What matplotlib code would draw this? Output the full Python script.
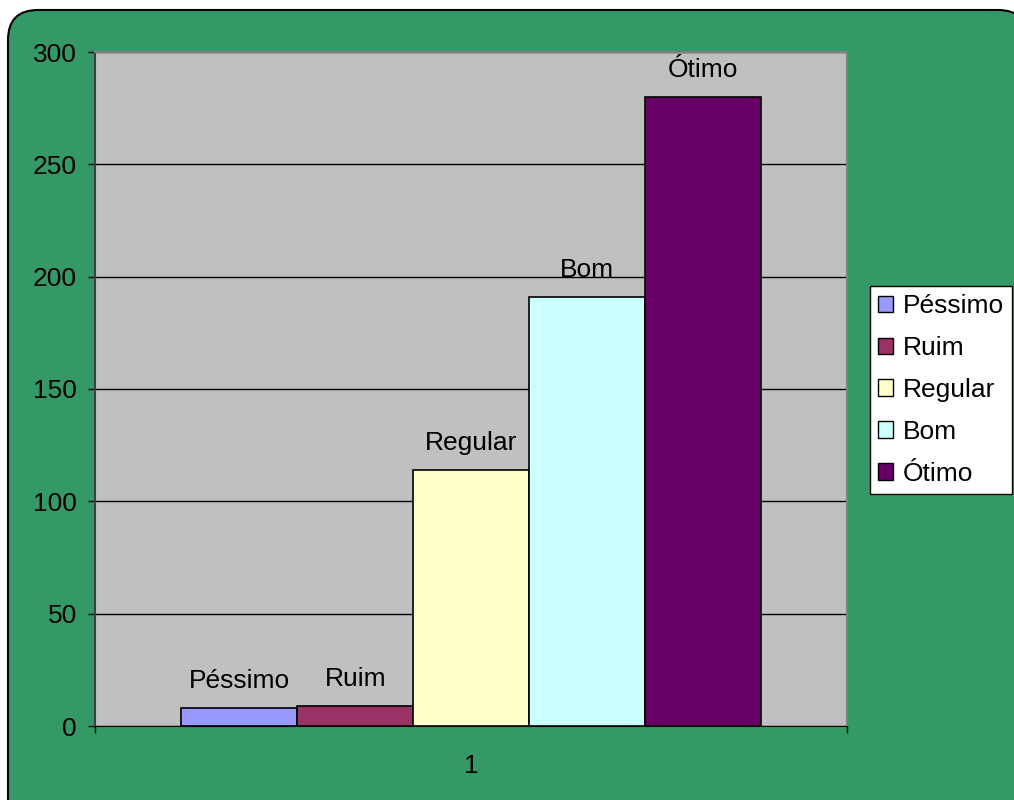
import matplotlib.pyplot as plt
from matplotlib.patches import FancyBboxPatch, Patch

plt.rcParams['font.family'] = ['Liberation Sans', 'DejaVu Sans']

categories = ['Péssimo', 'Ruim', 'Regular', 'Bom', 'Ótimo']
values = [8, 9, 114, 191, 280]
colors = ['#9999FF', '#993366', '#FFFFCC', '#CCFFFF', '#660066']
group_label = '1'

fig = plt.figure(figsize=(10.14, 8), dpi=100)
fig.patch.set_facecolor('white')

# rounded green background
bg = FancyBboxPatch((0.08, -0.3), 10.2, 8.2, boxstyle='round,pad=0,rounding_size=0.3',
                    transform=fig.dpi_scale_trans, facecolor='#339966',
                    edgecolor='black', linewidth=1.5, zorder=-10)
fig.patches.append(bg)

ax = fig.add_axes([0.0937, 0.0925, 0.7416, 0.8425])
ax.set_facecolor('#C0C0C0')

fs = 19
width = 0.154
for i, (cat, val, col) in enumerate(zip(categories, values, colors)):
    x = 1 + (i - 2) * width
    ax.bar(x, val, width=width, color=col, edgecolor='black', linewidth=1.2, zorder=3)
    ax.annotate(cat, (x, val), xytext=(0, 19.5), textcoords='offset points',
                ha='center', va='center', fontsize=fs, zorder=4)

ax.set_xlim(0.5, 1.5)
ax.set_ylim(0, 300)
ax.set_yticks(range(0, 301, 50))
ax.yaxis.grid(True, color='black', linewidth=1)
ax.set_axisbelow(True)

ax.set_xticks([0.5, 1.5])
ax.set_xticklabels(['', ''])
ax.set_xticks([1.0], minor=True)
ax.set_xticklabels([group_label], minor=True)
ax.tick_params(axis='x', which='minor', length=0, pad=20, labelsize=fs)
ax.tick_params(axis='x', which='major', length=5, width=1, direction='out')
ax.tick_params(axis='y', length=5, width=1, direction='out', pad=8, labelsize=fs)

for s in ['top', 'right']:
    ax.spines[s].set_color('#808080')
    ax.spines[s].set_linewidth(1.5)
ax.spines['left'].set_color('#404040')
ax.spines['left'].set_linewidth(1.5)
ax.spines['bottom'].set_color('black')

handles = [Patch(facecolor=c, edgecolor='black', linewidth=1) for c in colors]
leg = fig.legend(handles, categories, loc='center left', bbox_to_anchor=(0.858, 0.5125),
                 fontsize=fs, frameon=True, fancybox=False, framealpha=1,
                 handlelength=0.58, handleheight=0.58, handletextpad=0.35,
                 labelspacing=0.68, borderpad=0.3, borderaxespad=0)
leg.get_frame().set_edgecolor('black')
leg.get_frame().set_facecolor('white')
leg.get_frame().set_linewidth(1)

fig.savefig('out.png', dpi=100)
